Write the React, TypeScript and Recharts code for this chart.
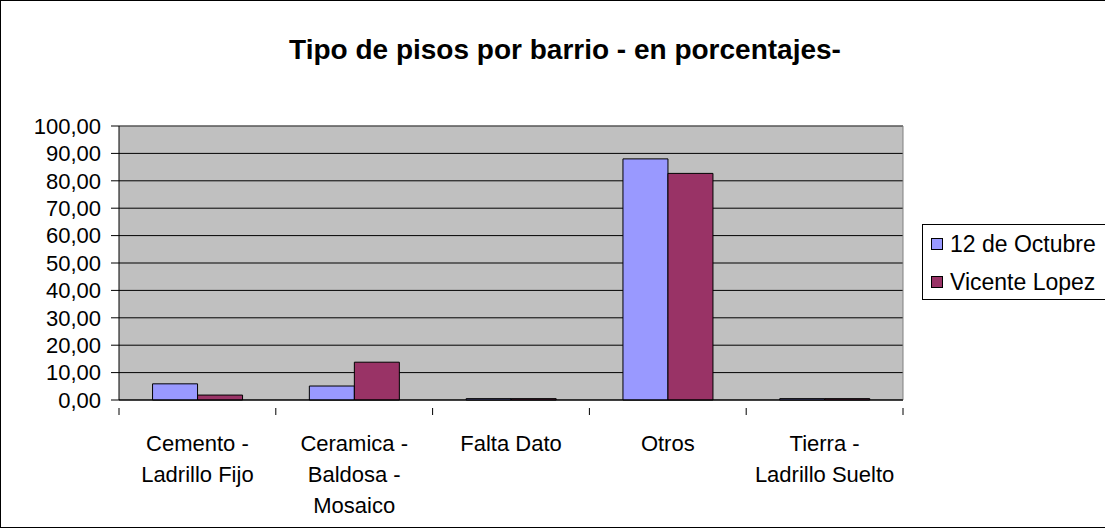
import { BarChart, Bar, XAxis, YAxis, CartesianGrid } from "recharts";

// data
const categories = [
  "Cemento - Ladrillo Fijo",
  "Ceramica - Baldosa - Mosaico",
  "Falta Dato",
  "Otros",
  "Tierra - Ladrillo Suelto",
];
const categoryLines = [
  ["Cemento -", "Ladrillo Fijo"],
  ["Ceramica -", "Baldosa -", "Mosaico"],
  ["Falta Dato"],
  ["Otros"],
  ["Tierra -", "Ladrillo Suelto"],
];
const octubre = [5.9, 5.1, 0.5, 88.0, 0.5];
const vicente = [1.8, 13.8, 0.5, 82.7, 0.5];
const seriesNames = ["12 de Octubre", "Vicente Lopez"];
const seriesColors = ["#9999FF", "#993366"];
const yTicks = [0, 10, 20, 30, 40, 50, 60, 70, 80, 90, 100];

const W = 1105;
const H = 529;
const X_H = 30;
const M = { top: 126, right: 202, bottom: 129 - X_H, left: 0 };
const Y_W = 119;
const PLOT_W = W - M.right - M.left - Y_W;
const FONT = "'Liberation Sans', Arial, sans-serif";

const data = categories.map((c, i) => ({
  name: c,
  octubre: octubre[i],
  vicente: vicente[i],
}));

function XTick(props: any) {
  const { x, y, index } = props;
  const half = PLOT_W / categories.length / 2;
  const lines = categoryLines[index] || [];
  return (
    <g>
      <line x1={x - half} y1={y} x2={x - half} y2={y + 7} stroke="#000" />
      {index === categories.length - 1 && (
        <line x1={x + half} y1={y} x2={x + half} y2={y + 7} stroke="#000" />
      )}
      {lines.map((l: string, k: number) => (
        <text
          key={k}
          x={x}
          y={y + 43 + k * 31}
          textAnchor="middle"
          fontSize={22}
          fontFamily={FONT}
          fill="#000"
        >
          {l}
        </text>
      ))}
    </g>
  );
}

export default function App() {
  return (
    <div
      style={{
        position: "absolute",
        left: 0,
        top: 0,
        width: W,
        height: H,
        overflow: "hidden",
        background: "#fff",
        fontFamily: FONT,
      }}
    >
      {/* outer frame */}
      <div
        style={{
          position: "absolute",
          left: 0,
          top: 0,
          width: W + 20,
          height: H - 1,
          border: "1px solid #000",
          boxSizing: "border-box",
        }}
      />

      {/* Title */}
      <div
        style={{
          position: "absolute",
          left: 0,
          top: 36,
          width: 1130,
          textAlign: "center",
          fontSize: 28,
          fontWeight: "bold",
          lineHeight: "28px",
          color: "#000",
        }}
      >
        Tipo de pisos por barrio - en porcentajes-
      </div>

      <div style={{ position: "absolute", left: 0, top: 0 }}>
        <BarChart
          width={W}
          height={H}
          data={data}
          margin={M}
          barCategoryGap="21.4%"
          barGap={0}
        >
          <CartesianGrid
            vertical={false}
            stroke="#000"
            fill="#C0C0C0"
            fillOpacity={1}
          />
          <CartesianGrid
            stroke="#808080"
            horizontalCoordinatesGenerator={({ offset }: any) => [offset.top]}
            verticalCoordinatesGenerator={({ offset }: any) => [
              offset.left + offset.width,
            ]}
          />
          <XAxis
            dataKey="name"
            stroke="#000"
            tickLine={false}
            interval={0}
            tick={<XTick />}
            height={X_H}
          />
          <YAxis
            width={Y_W}
            domain={[0, 100]}
            ticks={yTicks}
            interval={0}
            stroke="#000"
            tickSize={8}
            tickMargin={10}
            tick={{ fontSize: 22, fontFamily: FONT, fill: "#000" }}
            tickFormatter={(v: number) => v.toFixed(2).replace(".", ",")}
          />
          <Bar
            dataKey="octubre"
            name={seriesNames[0]}
            fill={seriesColors[0]}
            stroke="#000"
            strokeWidth={1}
            isAnimationActive={false}
          />
          <Bar
            dataKey="vicente"
            name={seriesNames[1]}
            fill={seriesColors[1]}
            stroke="#000"
            strokeWidth={1}
            isAnimationActive={false}
          />
        </BarChart>
      </div>

      {/* Legend */}
      <div
        style={{
          position: "absolute",
          left: 922,
          top: 224,
          width: 200,
          height: 76,
          border: "1px solid #000",
          boxSizing: "border-box",
          background: "#fff",
        }}
      >
        {seriesNames.map((n, i) => (
          <div
            key={n}
            style={{
              position: "absolute",
              left: 8,
              top: 6 + i * 38,
              height: 26,
              display: "flex",
              alignItems: "center",
              fontSize: 23,
              lineHeight: "26px",
              whiteSpace: "nowrap",
            }}
          >
            <span
              style={{
                display: "inline-block",
                width: 10,
                height: 10,
                background: seriesColors[i],
                border: "1px solid #000",
                marginRight: 7,
              }}
            />
            {n}
          </div>
        ))}
      </div>
    </div>
  );
}
